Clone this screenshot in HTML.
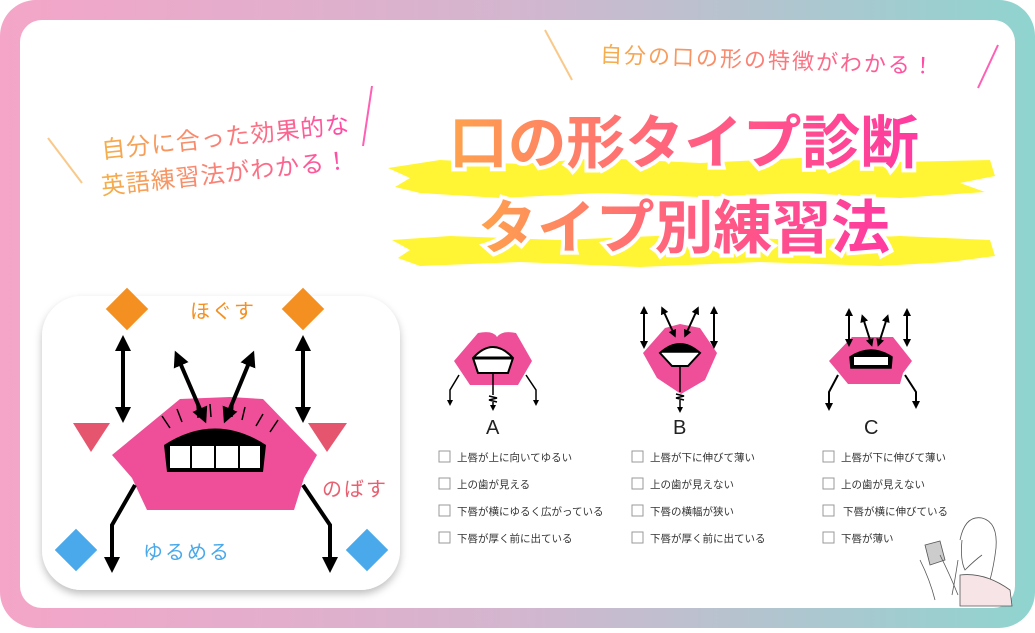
<!DOCTYPE html>
<html><head><meta charset="utf-8"><style>
html,body{margin:0;padding:0;background:#fff;}
body{width:1035px;height:628px;overflow:hidden;font-family:"Liberation Sans","Noto Sans CJK JP",sans-serif;}
</style></head><body>
<svg width="1035" height="628" viewBox="0 0 1035 628" xmlns="http://www.w3.org/2000/svg" font-family="'Liberation Sans','Noto Sans CJK JP',sans-serif">
<defs>
<linearGradient id="fr" x1="0" x2="1" y1="0" y2="0"><stop offset="0" stop-color="#f4a5c8"/><stop offset="0.5" stop-color="#d3b6cf"/><stop offset="1" stop-color="#8fd4cf"/></linearGradient>
<linearGradient id="tt" x1="0" x2="1" y1="0" y2="0"><stop offset="0" stop-color="#fea24c"/><stop offset="0.5" stop-color="#ff6080"/><stop offset="1" stop-color="#ff3aa0"/></linearGradient>
<linearGradient id="st" x1="0" x2="1" y1="0" y2="0"><stop offset="0" stop-color="#f5b04a"/><stop offset="1" stop-color="#ff4aa8"/></linearGradient>
<filter id="sh" x="-10%" y="-10%" width="120%" height="125%"><feDropShadow dx="0" dy="4" stdDeviation="4" flood-color="#000" flood-opacity="0.25"/></filter>
<marker id="ah" viewBox="0 0 10 10" refX="5" refY="5" markerWidth="4" markerHeight="4" orient="auto-start-reverse"><path d="M0,0 L10,5 L0,10 z" fill="#000"/></marker>
</defs>
<rect x="0" y="0" width="1035" height="628" rx="36" fill="url(#fr)"/>
<rect x="20" y="20" width="995" height="588" rx="22" fill="#fff"/>

<line x1="545" y1="30" x2="572" y2="80" stroke="#f9c98a" stroke-width="2"/>
<line x1="998" y1="45" x2="978" y2="88" stroke="#ff5fb4" stroke-width="2"/>
<text x="600" y="68" font-size="22" fill="url(#st)" transform="rotate(2 770 60)" letter-spacing="2">自分の口の形の特徴がわかる！</text>
<line x1="48" y1="138" x2="82" y2="183" stroke="#f9c98a" stroke-width="2"/>
<line x1="372" y1="86" x2="363" y2="146" stroke="#ff5fb4" stroke-width="2"/>
<g transform="rotate(-6 220 150)">
<text x="102" y="146" font-size="24" fill="url(#st)" letter-spacing="1">自分に合った効果的な</text>
<text x="98" y="182" font-size="24" fill="url(#st)" letter-spacing="1">英語練習法がわかる！</text>
</g>

<path d="M388,168 L440,160 L520,164 L600,158 L700,163 L800,158 L900,162 L990,160 L995,176 L960,183 L985,192 L900,198 L800,193 L700,197 L600,193 L500,198 L420,193 L395,187 L410,178 z" fill="#fff534"/>
<path d="M392,240 L450,236 L560,240 L680,235 L800,240 L900,236 L990,240 L995,256 L950,262 L880,266 L760,262 L640,267 L520,262 L420,266 L398,258 L410,250 z" fill="#fff534"/>
<g font-weight="bold" fill="url(#tt)" stroke="#fff" stroke-width="8" paint-order="stroke" font-size="58">
<text x="449" y="163" textLength="470" lengthAdjust="spacingAndGlyphs">口の形タイプ診断</text>
<text x="478" y="248" textLength="412" lengthAdjust="spacingAndGlyphs">タイプ別練習法</text>
</g>

<rect x="42" y="296" width="358" height="294" rx="40" fill="#fff" filter="url(#sh)"/>
<rect x="112" y="294" width="30" height="30" fill="#f39021" transform="rotate(45 127 309)"/>
<rect x="288" y="294" width="30" height="30" fill="#f39021" transform="rotate(45 303 309)"/>
<rect x="61" y="535" width="30" height="30" fill="#4aa9ea" transform="rotate(45 76 550)"/>
<rect x="352" y="535" width="30" height="30" fill="#4aa9ea" transform="rotate(45 367 550)"/>
<path d="M73,423 L110,423 L91,452 z" fill="#e5566e"/>
<path d="M308,423 L347,423 L327,452 z" fill="#e5566e"/>
<text x="190" y="318" font-size="20" fill="#f39021" letter-spacing="2">ほぐす</text>
<text x="322" y="496" font-size="20" fill="#e86070" letter-spacing="2">のばす</text>
<text x="143" y="559" font-size="20" fill="#4aa9ea" letter-spacing="2">ゆるめる</text>
<path d="M112,455 L180,399 L230,397 L263,399 L317,455 L304,478 L294,510 L147,510 L132,478 z" fill="#ee4f98"/>
<g stroke="#000" stroke-width="1.5" fill="none">
<path d="M162,416 L170,428"/><path d="M177,409 L182,422"/><path d="M197,405 L198,418"/><path d="M210,404 L211,417"/><path d="M233,404 L232,417"/><path d="M245,407 L242,420"/><path d="M263,414 L256,426"/><path d="M278,420 L270,432"/>
</g>
<path d="M164,445 Q215,412 266,445 L263,472 L167,472 z" fill="#000"/>
<g fill="#fff"><rect x="170" y="446" width="20" height="22"/><rect x="192" y="446" width="22" height="22"/><rect x="216" y="446" width="22" height="22"/><rect x="240" y="446" width="20" height="22"/></g>
<g stroke="#000" stroke-width="4" fill="none">
<line x1="123" y1="343" x2="123" y2="415" marker-start="url(#ah)" marker-end="url(#ah)"/>
<line x1="303" y1="343" x2="303" y2="415" marker-start="url(#ah)" marker-end="url(#ah)"/>
<line x1="178" y1="358" x2="203" y2="416" marker-start="url(#ah)" marker-end="url(#ah)"/>
<line x1="251" y1="358" x2="227" y2="416" marker-start="url(#ah)" marker-end="url(#ah)"/>
<polyline points="135,485 112,525 112,565" marker-end="url(#ah)"/>
<polyline points="303,485 330,525 330,565" marker-end="url(#ah)"/>
</g>

<g stroke="#000" stroke-width="1.5" fill="none">
<!-- A -->
<path d="M454,361 L478,333 Q493,330 497,337 Q502,330 516,333 L532,361 L518,385 L470,385 z" fill="#ee4f98" stroke="none"/>
<path d="M473,358 Q493,336 513,358 L508,373 L478,373 z" fill="#fff" stroke-width="2"/>
<line x1="473" y1="358" x2="513" y2="358" stroke-width="3"/>
<line x1="493" y1="373" x2="493" y2="395"/>
<path d="M489,396 L497,398 L489,400 L497,402"/>
<line x1="493" y1="402" x2="493" y2="408" marker-end="url(#ah)"/>
<polyline points="459,375 450,390 450,403" marker-end="url(#ah)"/>
<polyline points="526,375 536,390 536,403" marker-end="url(#ah)"/>
<!-- B -->
<path d="M643,353 L665,328 L680,324 L700,328 L717,353 L705,380 L681,394 L657,378 z" fill="#ee4f98" stroke="none"/>
<path d="M660,353 Q680,335 700,353 L688,366 L672,366 z" fill="#fff" stroke-width="2"/>
<path d="M661,352 Q680,337 699,352 z" fill="#000"/>
<line x1="680" y1="366" x2="680" y2="392"/>
<path d="M676,394 L684,396 L676,398 L684,400"/>
<line x1="680" y1="400" x2="680" y2="410" marker-end="url(#ah)"/>
<line x1="644" y1="310" x2="644" y2="345" stroke-width="2" marker-start="url(#ah)" marker-end="url(#ah)"/>
<line x1="714" y1="310" x2="714" y2="345" stroke-width="2" marker-start="url(#ah)" marker-end="url(#ah)"/>
<line x1="663" y1="310" x2="674" y2="334" stroke-width="2" marker-start="url(#ah)" marker-end="url(#ah)"/>
<line x1="697" y1="310" x2="686" y2="334" stroke-width="2" marker-start="url(#ah)" marker-end="url(#ah)"/>
<!-- C -->
<path d="M829,361 L852,337 L893,337 L912,361 L903,373 L900,384 L848,384 L839,373 z" fill="#ee4f98" stroke="none"/>
<path d="M850,357 Q871,343 892,357 L891,368 L851,368 z" fill="#000"/>
<rect x="854" y="357" width="34" height="8" fill="#fff" stroke="none"/>
<line x1="849" y1="312" x2="849" y2="343" stroke-width="2" marker-start="url(#ah)" marker-end="url(#ah)"/>
<line x1="907" y1="312" x2="907" y2="343" stroke-width="2" marker-start="url(#ah)" marker-end="url(#ah)"/>
<line x1="863" y1="318" x2="871" y2="343" stroke-width="2" marker-start="url(#ah)" marker-end="url(#ah)"/>
<line x1="887" y1="318" x2="879" y2="343" stroke-width="2" marker-start="url(#ah)" marker-end="url(#ah)"/>
<polyline points="838,375 829,392 829,407" stroke-width="2" marker-end="url(#ah)"/>
<polyline points="905,375 916,392 916,405" stroke-width="2" marker-end="url(#ah)"/>
</g>
<g font-size="20" fill="#222"><text x="486" y="434">A</text><text x="673" y="434">B</text><text x="864" y="434">C</text></g>
<g fill="#fff" stroke="#999" stroke-width="1">
<rect x="439" y="451" width="11" height="11"/><rect x="439" y="478" width="11" height="11"/><rect x="439" y="505" width="11" height="11"/><rect x="439" y="532" width="11" height="11"/>
<rect x="632" y="451" width="11" height="11"/><rect x="632" y="478" width="11" height="11"/><rect x="632" y="505" width="11" height="11"/><rect x="632" y="532" width="11" height="11"/>
<rect x="823" y="451" width="11" height="11"/><rect x="823" y="478" width="11" height="11"/><rect x="823" y="505" width="11" height="11"/><rect x="823" y="532" width="11" height="11"/>
</g>
<g font-size="10.5" fill="#333">
<text x="457" y="461">上唇が上に向いてゆるい</text><text x="457" y="488">上の歯が見える</text><text x="457" y="515">下唇が横にゆるく広がっている</text><text x="457" y="542">下唇が厚く前に出ている</text>
<text x="650" y="461">上唇が下に伸びて薄い</text><text x="650" y="488">上の歯が見えない</text><text x="650" y="515">下唇の横幅が狭い</text><text x="650" y="542">下唇が厚く前に出ている</text>
<text x="841" y="461">上唇が下に伸びて薄い</text><text x="841" y="488">上の歯が見えない</text><text x="843" y="515">下唇が横に伸びている</text><text x="841" y="542">下唇が薄い</text>
</g>

<g stroke="#555" stroke-width="0.8" fill="none">
<path d="M960,540 Q965,515 982,518 Q998,522 996,548 Q994,565 990,580"/>
<path d="M962,540 Q960,560 965,570 Q975,560 982,555"/>
<path d="M958,560 Q955,580 952,595"/>
<path d="M925,545 L940,541 L945,560 L930,565 z" fill="#ccc"/>
<path d="M920,560 Q930,580 935,600 M940,555 Q950,575 958,595"/>
<path d="M960,575 Q985,572 1010,590 L1012,606 L960,606 z" fill="#f7e4e6"/>
</g>
</svg>
</body></html>
